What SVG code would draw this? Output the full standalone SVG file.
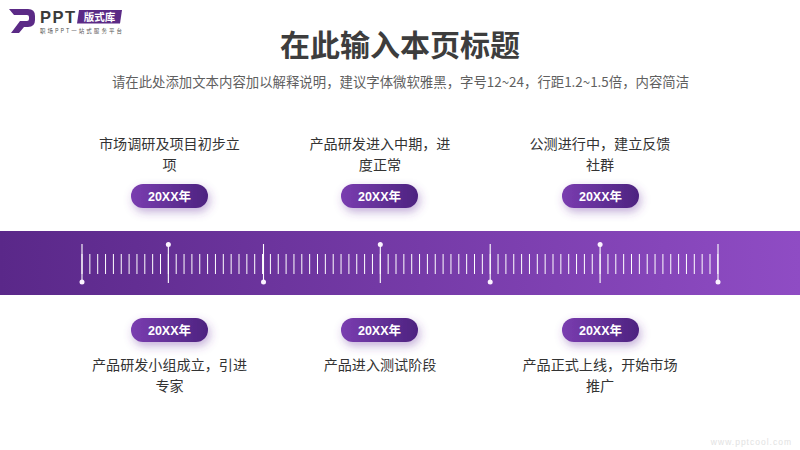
<svg xmlns="http://www.w3.org/2000/svg" width="800" height="450" viewBox="0 0 800 450">
<style>
text{font-family:"Noto Sans CJK SC","Microsoft YaHei",sans-serif}
.t{font-size:14.1px;fill:#333;text-anchor:middle}
.y{font-size:12.5px;font-weight:700;fill:#fff;text-anchor:middle;font-family:"Liberation Sans","Noto Sans CJK SC",sans-serif}
.p{fill:url(#pg);filter:url(#sh)}
.mj{stroke:#fff;stroke-width:1.1}
.d{fill:#fbf3ff}
</style>
<defs>
<linearGradient id="bar" x1="0" x2="1" y1="0" y2="0"><stop offset="0" stop-color="#5a2889"/><stop offset="1" stop-color="#8f4cc4"/></linearGradient>
<linearGradient id="pg" x1="0" x2="1" y1="0" y2="0"><stop offset="0" stop-color="#7a3db0"/><stop offset="1" stop-color="#4d2380"/></linearGradient>
<filter id="sh" x="-30%" y="-60%" width="160%" height="260%"><feDropShadow dx="2" dy="4" stdDeviation="5" flood-color="#6a35a0" flood-opacity=".4"/></filter>
</defs>
<rect width="800" height="450" fill="#fff"/>
<g id="logo">
<path d="M9 9H28Q35 9 35 16V20Q35 27 28 27H24L19 33H11L20 21H27Q29 21 29 19V17Q29 15 27 15H14Z" fill="#5b2a86"/>
<text x="40" y="23" font-size="16.500" font-weight="700" fill="#3a3a3a" textLength="35" style="font-family:'Liberation Sans',sans-serif">PPT</text>
<path d="M79 10H122L120 23.500H77Z" fill="#5b2a86"/>
<text x="99.500" y="21" font-size="10.500" font-weight="700" fill="#fff" text-anchor="middle">版式库</text>
<text x="40" y="32.500" font-size="5.500" fill="#555" textLength="82">职场PPT一站式服务平台</text>
</g>
<g id="header">
<text x="400" y="56" font-size="30" font-weight="700" fill="#3d3d3d" text-anchor="middle">在此输入本页标题</text>
<text x="400.500" y="86.500" font-size="13.400" fill="#5f5f5f" text-anchor="middle">请在此处添加文本内容加以解释说明，建议字体微软雅黑，字号12~24，行距1.2~1.5倍，内容简洁</text>
</g>
<g id="timeline">
<rect x="0" y="231" width="800" height="64" fill="url(#bar)"/>
<line x1="81.500" y1="264" x2="718.500" y2="264" stroke="#fff" stroke-width="20" stroke-dasharray="1 6.85"/>
<path class="mj" d="M82 244V283M168.350 244V283M263.500 244V283M380.300 244V283M490.200 244V283M600.100 244V283M718 244V283"/>
<circle class="d" cx="82" cy="282" r="2.500"/><circle class="d" cx="168.350" cy="244.500" r="2.500"/><circle class="d" cx="263.500" cy="282" r="2.500"/><circle class="d" cx="380.300" cy="244.500" r="2.500"/><circle class="d" cx="490.200" cy="282" r="2.500"/><circle class="d" cx="600.100" cy="244.500" r="2.500"/><circle class="d" cx="718" cy="282" r="2.500"/>
</g>
<g id="node-1"><text class="t" x="169.500" y="149">市场调研及项目初步立</text><text class="t" x="169.500" y="170">项</text><rect class="p" x="131" y="184" width="77" height="24" rx="12"/><text class="y" x="169.500" y="201">20XX年</text></g>
<g id="node-2"><text class="t" x="380" y="149">产品研发进入中期，进</text><text class="t" x="380" y="170">度正常</text><rect class="p" x="341" y="184" width="77" height="24" rx="12"/><text class="y" x="379.500" y="201">20XX年</text></g>
<g id="node-3"><text class="t" x="600" y="149">公测进行中，建立反馈</text><text class="t" x="600" y="170">社群</text><rect class="p" x="562" y="184" width="77" height="24" rx="12"/><text class="y" x="600.500" y="201">20XX年</text></g>
<g id="node-4"><rect class="p" x="131" y="318" width="77" height="24" rx="12"/><text class="y" x="169.500" y="335">20XX年</text><text class="t" x="169.500" y="370">产品研发小组成立，引进</text><text class="t" x="169.500" y="391">专家</text></g>
<g id="node-5"><rect class="p" x="341" y="318" width="77" height="24" rx="12"/><text class="y" x="379.500" y="335">20XX年</text><text class="t" x="380" y="370">产品进入测试阶段</text></g>
<g id="node-6"><rect class="p" x="562" y="318" width="77" height="24" rx="12"/><text class="y" x="600.500" y="335">20XX年</text><text class="t" x="600" y="370">产品正式上线，开始市场</text><text class="t" x="600" y="391">推广</text></g>
<text x="792" y="445" font-size="8.500" fill="#e2e2e2" text-anchor="end" letter-spacing="1" style="font-family:'Liberation Sans',sans-serif">www.pptcool.com</text>
</svg>
